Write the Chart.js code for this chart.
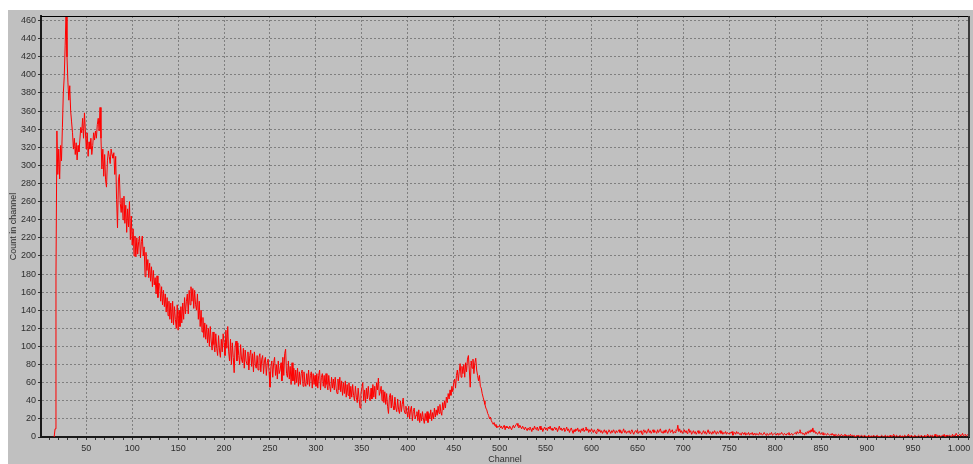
<!DOCTYPE html>
<html>
<head>
<meta charset="utf-8">
<title>Spectrum</title>
<script src="https://cdn.jsdelivr.net/npm/chart.js"></script>
<style>
  html, body { margin: 0; padding: 0; background: #ffffff; }
  #wrap { width: 973px; height: 464px; }
</style>
</head>
<body>
<div id="wrap"><canvas id="spectrum" width="973" height="464"></canvas></div>
<script>
// counts per channel, first entry is channel 15
const firstChannel = 15;
const counts = [
  0, 9, 178, 338, 290,
  318, 285, 322, 305, 342, 380, 398, 432, 470, 420,
  392, 372, 388, 360, 348, 336, 318, 330, 312, 325,
  306, 322, 315, 328, 342, 336, 352, 330, 358, 338,
  318, 336, 310, 326, 318, 330, 312, 322, 336, 328,
  338, 330, 345, 352, 338, 364, 330, 296, 318, 288,
  312, 284, 276, 305, 316, 310, 302, 318, 312, 308,
  314, 290, 310, 262, 231, 284, 290, 258, 248, 264,
  240, 266, 236, 256, 226, 252, 232, 260, 218, 244,
  212, 230, 200, 222, 199, 220, 202, 216, 222, 198,
  216, 222, 200, 210, 177, 204, 184, 196, 176, 192,
  172, 188, 166, 184, 168, 176, 158, 178, 154, 170,
  168, 150, 166, 146, 162, 144, 158, 138, 154, 134,
  150, 130, 148, 126, 150, 124, 144, 130, 120, 146,
  118, 140, 122, 144, 126, 148, 130, 154, 136, 150,
  158, 136, 162, 146, 166, 150, 164, 142, 162, 146,
  140, 158, 130, 150, 122, 140, 116, 132, 110, 126,
  108, 124, 104, 120, 100, 122, 106, 96, 116, 102,
  94, 114, 98, 90, 112, 96, 88, 108, 94, 114,
  104, 90, 118, 98, 122, 94, 84, 108, 80, 104,
  88, 71, 100, 106, 84, 104, 90, 80, 102, 86,
  82, 98, 76, 96, 84, 80, 94, 74, 90, 96,
  78, 92, 72, 94, 80, 76, 90, 74, 88, 92,
  72, 86, 90, 70, 84, 88, 68, 82, 86, 72,
  55, 78, 84, 66, 82, 88, 68, 80, 64, 84,
  70, 74, 82, 62, 88, 68, 92, 97, 70, 66,
  84, 64, 78, 58, 82, 62, 76, 58, 74, 60,
  76, 56, 72, 58, 70, 74, 56, 72, 60, 56,
  70, 58, 74, 56, 68, 72, 54, 70, 58, 68,
  56, 70, 54, 68, 74, 52, 66, 70, 56, 68,
  54, 70, 58, 52, 68, 56, 50, 66, 54, 64,
  52, 66, 54, 48, 64, 52, 66, 50, 62, 46,
  60, 48, 62, 44, 58, 46, 60, 42, 56, 44,
  58, 46, 40, 56, 44, 38, 54, 42, 32, 48,
  54, 60, 40, 52, 38, 54, 42, 56, 44, 40,
  54, 42, 58, 44, 56, 42, 60, 52, 65, 46,
  50, 56, 40, 52, 38, 50, 36, 48, 34, 26,
  44, 48, 32, 46, 34, 30, 44, 32, 28, 42,
  30, 26, 40, 28, 36, 43, 30, 26, 34, 28,
  22, 34, 20, 30, 34, 18, 28, 32, 20, 24,
  28, 18, 30, 16, 26, 18, 28, 20, 15, 26,
  18, 28, 16, 26, 20, 30, 18, 27, 20, 32,
  22, 30, 24, 34, 26, 36, 28, 24, 38, 30,
  40, 32, 44, 38, 48, 42, 52, 46, 56, 50,
  60, 64, 54, 68, 74, 62, 72, 81, 66, 78,
  70, 80, 66, 82, 72, 86, 90, 74, 55, 84,
  76, 86, 70, 82, 87, 74, 68, 62, 68, 56,
  54, 48, 44, 40, 36, 32, 30, 26, 24, 20,
  22, 18, 16, 14, 16, 12, 14, 10, 12, 11,
  13, 10, 12, 9, 11, 13, 8, 12, 10, 11,
  9, 12, 10, 8, 11, 13, 10, 12, 14, 15,
  12, 10, 13, 11, 9, 12, 10, 8, 11, 9,
  7, 10, 8, 11, 9, 6, 10, 8, 12, 9,
  8, 11, 7, 9, 12, 8, 10, 6, 9, 11,
  8, 10, 7, 11, 9, 12, 8, 10, 7, 9,
  11, 8, 10, 6, 9, 12, 8, 10, 7, 9,
  10, 6, 8, 11, 7, 9, 5, 8, 10, 7,
  4, 8, 6, 9, 7, 10, 6, 8, 5, 9,
  7, 10, 6, 8, 11, 7, 9, 5, 8, 6,
  9, 7, 5, 8, 6, 4, 7, 9, 6, 8,
  5, 7, 4, 6, 8, 5, 7, 3, 6, 8,
  6, 4, 7, 5, 8, 6, 4, 7, 5, 6,
  8, 5, 7, 4, 6, 9, 5, 7, 4, 6,
  5, 7, 4, 6, 8, 5, 3, 6, 7, 5,
  8, 4, 6, 5, 7, 3, 6, 8, 5, 7,
  4, 6, 9, 5, 7, 4, 6, 8, 5, 7,
  6, 4, 8, 5, 7, 9, 5, 6, 4, 7,
  5, 8, 6, 4, 7, 9, 5, 6, 8, 4,
  6, 5, 8, 7, 13, 6, 9, 5, 7, 4,
  6, 8, 5, 7, 4, 6, 9, 5, 7, 3,
  5, 7, 4, 6, 3, 5, 7, 4, 6, 5,
  3, 5, 7, 4, 6, 3, 5, 8, 4, 6,
  5, 3, 6, 4, 7, 5, 3, 6, 4, 5,
  7, 4, 6, 3, 5, 4, 6, 3, 5, 4,
  3, 5, 4, 6, 2, 4, 5, 3, 6, 4,
  5, 3, 4, 2, 5, 4, 3, 5, 2, 4,
  3, 5, 2, 4, 3, 5, 2, 4, 3, 2,
  4, 3, 2, 5, 3, 4, 2, 3, 5, 3,
  2, 4, 3, 2, 4, 3, 5, 2, 3, 4,
  3, 2, 4, 3, 2, 4, 3, 5, 3, 2,
  4, 3, 2, 4, 3, 5, 2, 3, 4, 2,
  3, 4, 5, 3, 6, 4, 5, 8, 4, 5,
  3, 4, 2, 5, 3, 6, 4, 7, 5, 8,
  6, 10, 5, 7, 4, 5, 3, 4, 6, 3,
  4, 3, 5, 2, 4, 3, 2, 4, 3, 2,
  3, 2, 4, 2, 3, 1, 3, 2, 1, 3,
  2, 1, 3, 2, 1, 2, 3, 1, 2, 1,
  2, 1, 3, 1, 2, 1, 2, 0, 1, 2,
  1, 2, 0, 1, 2, 1, 0, 2, 1, 1,
  0, 1, 2, 0, 1, 1, 0, 2, 1, 0,
  1, 2, 0, 1, 0, 1, 2, 1, 0, 1,
  2, 0, 1, 1, 0, 2, 1, 0, 1, 3,
  1, 0, 2, 1, 0, 1, 2, 0, 1, 1,
  0, 2, 1, 0, 1, 3, 1, 0, 2, 1,
  1, 0, 2, 1, 0, 1, 2, 1, 0, 2,
  1, 0, 1, 2, 0, 1, 3, 1, 0, 2,
  1, 2, 0, 1, 3, 1, 0, 2, 1, 2,
  0, 1, 2, 1, 3, 0, 2, 1, 2, 1,
  2, 1, 0, 3, 1, 2, 1, 4, 2, 1,
  2, 3, 1, 2, 4, 1, 2, 3, 1, 2, 3, 2
];

// axis ranges and tick steps
const xRange = [0.7, 1011];
const yRange = [0, 465];
const xMajorStep = 50;
const xMinorStep = 10;
const yStep = 20;

const xTitle = 'Channel';
const yTitle = 'Count in channel';

const GRAY = '#c0c0c0';
const GRID = '#7f7f7f';
const TEXT = '#2e2e2e';

// gray panel behind everything, frame on top/right
const panelPlugin = {
    id: 'panel',
    beforeDraw(chart) {
        const ctx = chart.ctx;
        ctx.save();
        ctx.fillStyle = '#ffffff';
        ctx.fillRect(0, 0, chart.width, chart.height);
        ctx.fillStyle = GRAY;
        ctx.fillRect(8, 10, chart.width - 8, chart.height - 10);
        ctx.restore();
    },
    afterDraw(chart) {
        const a = chart.chartArea;
        const ctx = chart.ctx;
        ctx.save();
        ctx.strokeStyle = '#000000';
        ctx.lineWidth = 1;
        ctx.beginPath();
        ctx.moveTo(a.left, a.top + 0.5);
        ctx.lineTo(a.right, a.top + 0.5);
        ctx.stroke();
        ctx.strokeStyle = '#3a3a3a';
        ctx.lineWidth = 2;
        ctx.beginPath();
        ctx.moveTo(a.right, a.top);
        ctx.lineTo(a.right, a.bottom);
        ctx.stroke();
        ctx.restore();
    }
};

Chart.defaults.font.family = '"Liberation Sans", Arial, sans-serif';
Chart.defaults.font.size = 9;
Chart.defaults.color = TEXT;

const points = counts.map((v, i) => ({ x: firstChannel + i, y: v }));

new Chart(document.getElementById('spectrum'), {
    type: 'line',
    data: {
        datasets: [{
            data: points,
            borderColor: '#ff0000',
            borderWidth: 1,
            pointRadius: 0,
            tension: 0,
            fill: false
        }]
    },
    options: {
        responsive: false,
        animation: false,
        layout: { padding: { left: 0, top: 16, right: 4, bottom: 0 } },
        plugins: {
            legend: { display: false },
            tooltip: { enabled: false }
        },
        scales: {
            x: {
                type: 'linear',
                min: xRange[0],
                max: xRange[1],
                afterFit: s => { s.height = 27; },
                border: { display: true, color: '#1a1a1a', width: 2, dash: [2, 2] },
                grid: {
                    color: c => (c.tick && c.tick.value % xMajorStep === 0) ? GRID : 'rgba(0,0,0,0)',
                    tickColor: '#333333',
                    tickLength: 3,
                    lineWidth: 1
                },
                ticks: {
                    stepSize: xMinorStep,
                    includeBounds: false,
                    autoSkip: false,
                    maxRotation: 0,
                    padding: 3,
                    color: TEXT,
                    callback: v => v % xMajorStep === 0 ? v.toLocaleString('de-DE') : ''
                },
                title: {
                    display: true,
                    text: xTitle,
                    color: TEXT,
                    padding: { top: 0, bottom: -1 }
                }
            },
            y: {
                min: yRange[0],
                max: yRange[1],
                afterFit: s => { s.width = 41; },
                border: { display: true, color: '#1a1a1a', width: 2, dash: [2, 2] },
                grid: {
                    color: GRID,
                    tickColor: '#333333',
                    tickLength: 3,
                    lineWidth: 1
                },
                ticks: {
                    stepSize: yStep,
                    includeBounds: false,
                    padding: 2,
                    color: TEXT
                },
                title: {
                    display: true,
                    text: yTitle,
                    color: TEXT,
                    padding: { top: 8, bottom: 0 }
                }
            }
        }
    },
    plugins: [panelPlugin]
});
</script>
</body>
</html>
